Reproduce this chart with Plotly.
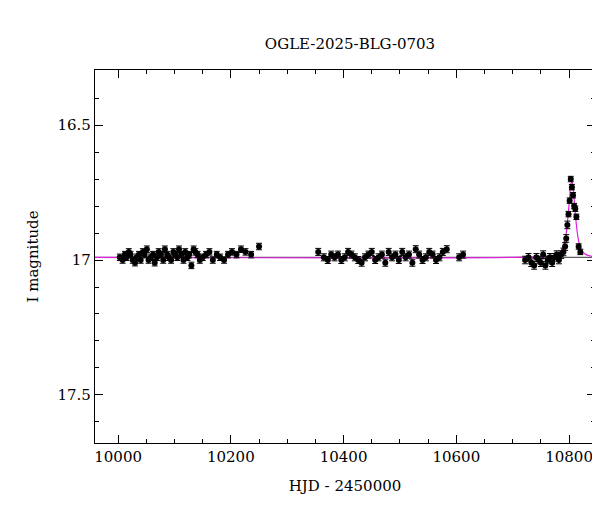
import plotly.graph_objects as go

hjd = [10003,10008,10012,10015,10019,10022,10026,10030,10033,10037,10040,10044,10047,10051,10054,10058,10062,10065,10069,10072,10076,10080,10083,10087,10090,10094,10098,10101,10105,10108,10112,10116,10119,10123,10126,10130,10134,10137,10141,10145,10150,10156,10162,10168,10175,10181,10188,10195,10202,10210,10218,10226,10236,10250,
       10355,10365,10372,10378,10384,10390,10396,10402,10408,10414,10420,10426,10432,10438,10444,10450,10456,10462,10468,10474,10480,10486,10492,10498,10504,10510,10516,10522,10528,10534,10540,10546,10552,10558,10564,10570,10576,10583,10605,10612,
       10722,10728,10733,10738,10742,10746,10750,10754,10758,10762,10766,10770,10774,10778,10782,10786,10790,10793,10795,10797,10799,10801,10803,10805,10807,10809,10811,10813,10817,10820]
mag = [16.99,17.00,16.98,16.99,16.97,16.98,17.00,17.01,16.99,16.98,17.00,16.97,16.98,16.96,17.00,16.99,16.98,17.01,16.99,16.97,16.98,17.00,16.96,16.98,16.99,17.00,16.97,16.98,16.99,16.96,16.98,17.00,16.97,16.99,16.98,17.02,16.96,16.97,16.98,17.00,16.99,16.98,16.97,17.00,16.98,16.99,17.00,16.98,16.97,16.98,16.96,16.97,16.98,16.95,
       16.97,16.99,17.00,16.98,16.99,16.98,17.00,16.99,16.97,16.98,16.99,17.00,17.01,16.99,16.98,16.97,17.00,16.99,16.98,17.01,16.97,16.99,16.98,17.00,16.97,16.99,16.98,17.01,16.96,16.98,17.00,16.99,16.97,16.98,17.00,16.99,16.97,16.96,16.99,16.98,
       17.00,16.99,17.01,17.02,16.99,17.00,17.01,16.98,17.02,17.00,16.99,17.01,16.99,16.98,17.00,16.98,16.97,16.95,16.92,16.87,16.83,16.78,16.70,16.73,16.76,16.80,16.81,16.84,16.95,16.97]
err = [0.012]*54 + [0.013]*40 + [0.014]*20 + [0.010]*10

model_x = [9959,10700,10770,10780,10786,10791,10795,10798,10801,10803,10805,10807,10810,10813,10817,10822,10830,10838,10846]
model_y = [16.99,16.99,16.985,16.98,16.965,16.94,16.90,16.84,16.77,16.72,16.71,16.73,16.80,16.87,16.93,16.965,16.98,16.985,16.99]
baseline = 16.99

serif = "DejaVu Serif"
fig = go.Figure()
fig.add_trace(go.Scatter(x=[9959, 10846], y=[baseline, baseline], mode="lines",
                         line=dict(color="black", width=0.8), hoverinfo="skip"))
fig.add_trace(go.Scatter(x=model_x, y=model_y, mode="lines",
                         line=dict(color="#e020e0", width=1.2, shape="spline")))
fig.add_trace(go.Scatter(x=hjd, y=mag, mode="markers",
                         marker=dict(color="black", size=6),
                         error_y=dict(type="data", array=err, color="black", thickness=1, width=3)))
axis = dict(showgrid=False, zeroline=False, showline=True, linecolor="black", linewidth=1.2,
            mirror="allticks", ticks="inside", ticklen=8, tickcolor="black", automargin=False,
            tickfont=dict(family=serif, size=15, color="black"))
fig.update_layout(
    width=600, height=512, plot_bgcolor="white", paper_bgcolor="white", showlegend=False,
    margin=dict(l=87, r=13, t=62, b=77),
    title=dict(text="OGLE-2025-BLG-0703", x=0.57, y=0.94, xanchor="center",
               font=dict(family=serif, size=15, color="black")),
    xaxis=dict(axis, range=[9959, 10846], dtick=200, tickformat="d",
               minor=dict(ticks="inside", ticklen=4, tickcolor="black", dtick=50),
               title=dict(text="HJD - 2450000", font=dict(family=serif, size=15, color="black"))),
    yaxis=dict(axis, range=[17.678, 16.296], tickvals=[16.5, 17, 17.5], ticktext=["16.5", "17", "17.5"],
               minor=dict(ticks="inside", ticklen=4, tickcolor="black", tickvals=[16.4,16.6,16.7,16.8,16.9,17.1,17.2,17.3,17.4,17.6]),
               title=dict(text="I magnitude", font=dict(family=serif, size=15, color="black"))),
)
fig.write_html("out.html")
